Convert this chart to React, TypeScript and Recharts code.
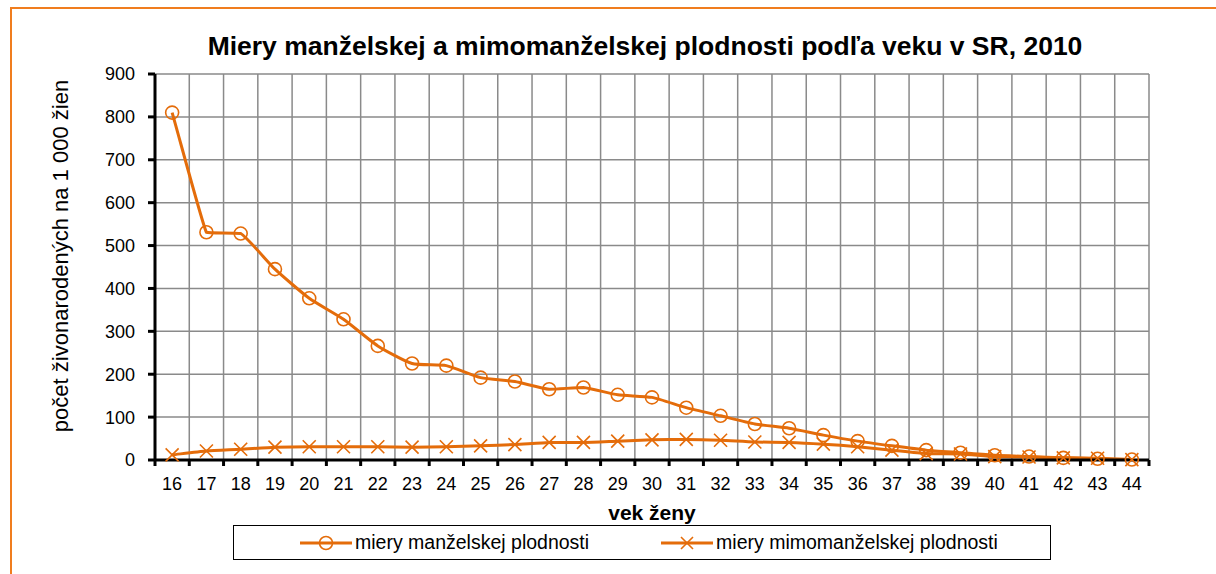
import { CartesianGrid, Label, Line, LineChart, XAxis, YAxis } from 'recharts'

const ages = [16, 17, 18, 19, 20, 21, 22, 23, 24, 25, 26, 27, 28, 29, 30, 31, 32, 33, 34, 35, 36, 37, 38, 39, 40, 41, 42, 43, 44]
const marital = [810, 531, 528, 445, 377, 328, 266, 225, 220, 192, 183, 165, 169, 152, 146, 122, 103, 84, 74, 58, 44, 33, 23, 17, 11, 8, 5, 3, 1]
const nonMarital = [12, 21, 25, 30, 31, 31, 31, 30, 31, 33, 36, 41, 41, 44, 47, 48, 46, 42, 41, 37, 31, 23, 15, 14, 8, 7, 5, 4, 1]
const yTicks = [0, 100, 200, 300, 400, 500, 600, 700, 800, 900]

const TITLE = 'Miery manželskej a mimomanželskej plodnosti podľa veku v SR, 2010'
const Y_LABEL = 'počet živonarodených na 1 000 žien'
const X_LABEL = 'vek ženy'
const NAME_MARITAL = 'miery manželskej plodnosti'
const NAME_NON = 'miery mimomanželskej plodnosti'

const ORANGE = '#E46C0A'
const FRAME = '#F07D1E'
const FONT = '"Liberation Sans", Arial, sans-serif'

const W = 1216
const H = 574
const PLOT = { left: 155, top: 74, right: 1149, bottom: 460 }
const BAND = (PLOT.right - PLOT.left) / ages.length

const data = ages.map((age, i) => ({ age, marital: marital[i], nonMarital: nonMarital[i] }))
// category boundaries carry the grid lines and tick marks, labels sit between them
const bounds = [...ages.map((a) => a - 0.5), ages[ages.length - 1] + 0.5]

// light smoothing: tangent follows the neighbours, handles kept short and never overshoot a segment
function smoothCurve(context: any) {
  let pts: number[][] = []
  const len = (a: number[], b: number[]) => Math.hypot(b[0] - a[0], b[1] - a[1])
  const dir = (a: number[], b: number[]) => {
    const l = len(a, b) || 1
    return [(b[0] - a[0]) / l, (b[1] - a[1]) / l]
  }
  const clamp = (v: number, a: number, b: number) => Math.min(Math.max(v, Math.min(a, b)), Math.max(a, b))
  return {
    areaStart() {},
    areaEnd() {},
    lineStart() {
      pts = []
    },
    point(x: number, y: number) {
      pts.push([+x, +y])
    },
    lineEnd() {
      const n = pts.length
      if (!n) return
      context.moveTo(pts[0][0], pts[0][1])
      for (let i = 0; i < n - 1; i++) {
        const p0 = pts[Math.max(i - 1, 0)]
        const p1 = pts[i]
        const p2 = pts[i + 1]
        const p3 = pts[Math.min(i + 2, n - 1)]
        const seg = len(p1, p2)
        const h1 = Math.min(seg, i > 0 ? len(p0, p1) : seg) * 0.2
        const h2 = Math.min(seg, i + 2 < n ? len(p2, p3) : seg) * 0.2
        const t1 = dir(p0, p2)
        const t2 = dir(p1, p3)
        const c1y = clamp(p1[1] + t1[1] * h1, p1[1], p2[1])
        const c2y = clamp(p2[1] - t2[1] * h2, p1[1], p2[1])
        context.bezierCurveTo(p1[0] + t1[0] * h1, c1y, p2[0] - t2[0] * h2, c2y, p2[0], p2[1])
      }
    },
  }
}

function AgeTick({ x, y, payload }: any) {
  const age = payload.value + 0.5
  if (age > ages[ages.length - 1]) return <g />
  return (
    <text x={x + BAND / 2} y={y} dy="0.72em" textAnchor="middle" fontSize={18} fontFamily={FONT} fill="#000">
      {age}
    </text>
  )
}

function CrossDot({ cx, cy }: any) {
  if (cx == null || cy == null) return <g />
  const s = 6.5
  return (
    <path
      d={`M${cx - s},${cy - s}L${cx + s},${cy + s}M${cx - s},${cy + s}L${cx + s},${cy - s}`}
      stroke={ORANGE}
      strokeWidth={1.6}
      fill="none"
    />
  )
}

function LegendSample({ cross }: { cross?: boolean }) {
  return (
    <svg width={52} height={16} style={{ display: 'block' }}>
      <line x1={0} y1={8} x2={52} y2={8} stroke={ORANGE} strokeWidth={3} />
      {cross ? (
        <path d="M20,2L32,14M20,14L32,2" stroke={ORANGE} strokeWidth={1.6} fill="none" />
      ) : (
        <circle cx={26} cy={8} r={6.5} stroke={ORANGE} strokeWidth={1.6} fill="none" />
      )}
    </svg>
  )
}

export default function App() {
  return (
    <div style={{ position: 'absolute', left: 0, top: 0, width: W, height: H, overflow: 'hidden', background: '#fff' }}>
      <div
        style={{
          position: 'absolute',
          left: 10,
          top: 7,
          width: W + 20,
          height: H + 20,
          borderTop: `2px solid ${FRAME}`,
          borderLeft: `2px solid ${FRAME}`,
        }}
      />
      <div
        style={{
          position: 'absolute',
          left: 145,
          top: 31,
          width: 1000,
          textAlign: 'center',
          fontFamily: FONT,
          fontWeight: 'bold',
          fontSize: 26.5,
          lineHeight: '30px',
          color: '#000',
          whiteSpace: 'nowrap',
        }}
      >
        {TITLE}
      </div>
      <div style={{ position: 'absolute', left: 0, top: 0 }}>
        <LineChart width={W} height={H} data={data} margin={{ top: PLOT.top, right: W - PLOT.right, left: PLOT.left - 100, bottom: H - PLOT.bottom - 60 }}>
          <CartesianGrid stroke="#8a8a8a" strokeWidth={1.5} />
          <XAxis
            dataKey="age"
            type="number"
            domain={[bounds[0], bounds[bounds.length - 1]]}
            ticks={bounds}
            interval={0}
            height={60}
            tickSize={6}
            tickMargin={11}
            tick={<AgeTick />}
            axisLine={{ stroke: '#000', strokeWidth: 3 }}
            tickLine={{ stroke: '#000', strokeWidth: 3 }}
          >
            <Label
              content={({ viewBox }: any) => (
                <text
                  x={viewBox.x + viewBox.width / 2}
                  y={viewBox.y + 60}
                  textAnchor="middle"
                  fontSize={21}
                  fontWeight="bold"
                  fontFamily={FONT}
                  fill="#000"
                >
                  {X_LABEL}
                </text>
              )}
            />
          </XAxis>
          <YAxis
            type="number"
            domain={[0, 900]}
            ticks={yTicks}
            interval={0}
            width={100}
            tickSize={7}
            tickMargin={13}
            tick={{ fontSize: 18, fontFamily: FONT, fill: '#000' }}
            axisLine={{ stroke: '#000', strokeWidth: 3 }}
            tickLine={{ stroke: '#000', strokeWidth: 3 }}
          >
            <Label
              content={({ viewBox }: any) => {
                const cx = viewBox.x + 5
                const cy = viewBox.y + viewBox.height / 2 - 11
                return (
                  <text
                    x={cx}
                    y={cy}
                    transform={`rotate(-90 ${cx} ${cy})`}
                    textAnchor="middle"
                    dominantBaseline="central"
                    fontSize={22}
                    fontFamily={FONT}
                    fill="#000"
                  >
                    {Y_LABEL}
                  </text>
                )
              }}
            />
          </YAxis>
          <Line
            type={smoothCurve as any}
            dataKey="nonMarital"
            name={NAME_NON}
            stroke={ORANGE}
            strokeWidth={3}
            dot={<CrossDot />}
            isAnimationActive={false}
          />
          <Line
            type={smoothCurve as any}
            dataKey="marital"
            name={NAME_MARITAL}
            stroke={ORANGE}
            strokeWidth={3}
            dot={{ r: 6.5, stroke: ORANGE, strokeWidth: 1.6, fill: 'none' }}
            isAnimationActive={false}
          />
        </LineChart>
      </div>
      <div
        style={{
          position: 'absolute',
          left: 233,
          top: 525,
          width: 818,
          height: 35,
          boxSizing: 'border-box',
          border: '1.5px solid #000',
          display: 'flex',
          alignItems: 'center',
          paddingLeft: 66,
          fontFamily: FONT,
          fontSize: 19.5,
          color: '#000',
          whiteSpace: 'nowrap',
        }}
      >
        <LegendSample />
        <span style={{ marginLeft: 3 }}>{NAME_MARITAL}</span>
        <span style={{ width: 72 }} />
        <LegendSample cross />
        <span style={{ marginLeft: 3 }}>{NAME_NON}</span>
      </div>
    </div>
  )
}
